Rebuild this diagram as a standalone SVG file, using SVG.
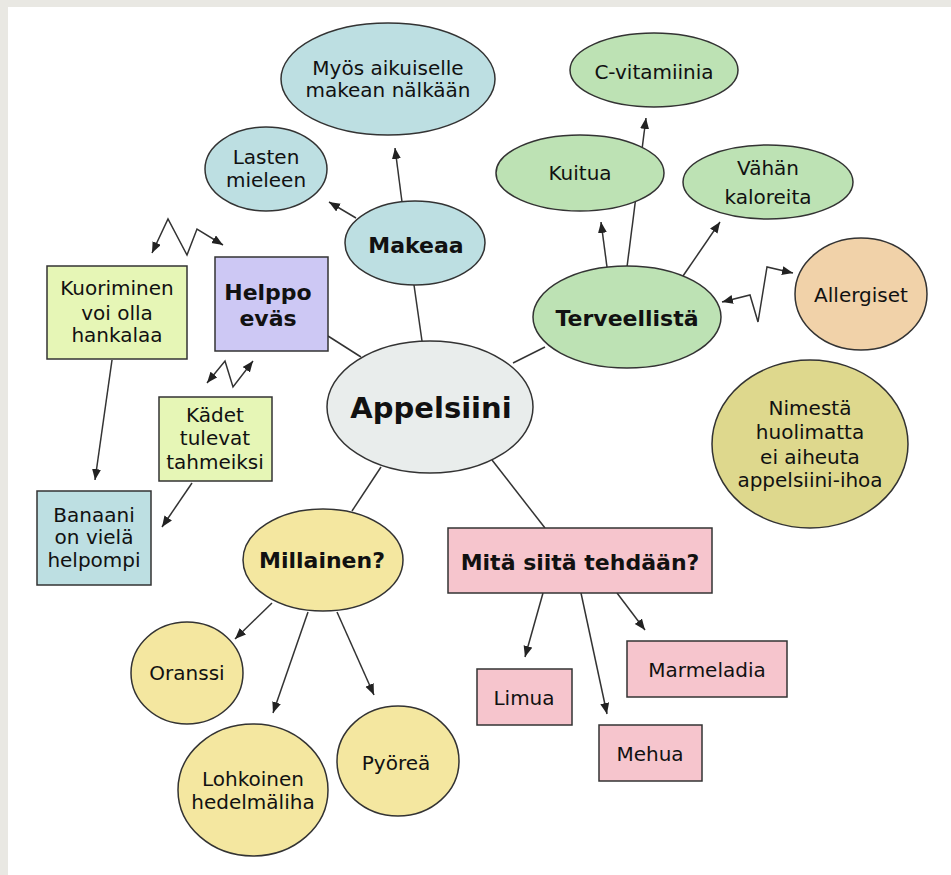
<svg xmlns="http://www.w3.org/2000/svg" width="951" height="875" viewBox="0 0 951 875">
<defs>
<marker id="ah" markerUnits="userSpaceOnUse" markerWidth="12" markerHeight="10" refX="11" refY="4.5" orient="auto-start-reverse"><path d="M0,0 L11,4.5 L0,9 z" fill="#222"/></marker>
<style>
.n{stroke:#333;stroke-width:1.5}
.t{font-family:"DejaVu Sans",Verdana,sans-serif;font-size:20px;fill:#111;text-anchor:middle}
.b{font-weight:bold;font-size:22px}
.c line,.c polyline{stroke:#333;stroke-width:1.5;fill:none}
.a{marker-end:url(#ah)}
.d{marker-start:url(#ah);marker-end:url(#ah)}
.blue{fill:#bddfe2}.green{fill:#bde2b4}.lime{fill:#e6f6b6}.purple{fill:#cdc8f4}.gray{fill:#e9edec}.yellow{fill:#f4e7a0}.pink{fill:#f6c5cd}.peach{fill:#f1d2a9}.khaki{fill:#ded88d}
</style>
</defs>
<rect width="951" height="875" fill="#e9e8e3"/>
<rect x="8" y="7" width="943" height="868" fill="#fff"/>
<g class="c" id="connectors">
<line x1="414" y1="285" x2="422" y2="341"/>
<line x1="328" y1="336" x2="361" y2="357"/>
<line x1="513" y1="363" x2="545" y2="347"/>
<line x1="381" y1="467" x2="352" y2="511"/>
<line x1="492" y1="460" x2="545" y2="528"/>
<line class="a" x1="402" y1="202" x2="395" y2="148"/>
<line class="a" x1="356" y1="218" x2="329" y2="202"/>
<line class="a" x1="627" y1="267" x2="646" y2="118"/>
<line class="a" x1="607" y1="267" x2="601" y2="222"/>
<line class="a" x1="683" y1="276" x2="720" y2="222"/>
<polyline class="d" points="722,302 750,295 758,322 767,267 793,273"/>
<polyline class="d" points="152,253 168,219 187,255 197,229 223,245"/>
<polyline class="d" points="207,383 225,361 233,387 253,361"/>
<line class="a" x1="112" y1="360" x2="95" y2="480"/>
<line class="a" x1="192" y1="483" x2="162" y2="527"/>
<line class="a" x1="272" y1="603" x2="235" y2="639"/>
<line class="a" x1="308" y1="612" x2="273" y2="713"/>
<line class="a" x1="337" y1="612" x2="374" y2="695"/>
<line class="a" x1="543" y1="593" x2="525" y2="657"/>
<line class="a" x1="581" y1="593" x2="607" y2="714"/>
<line class="a" x1="617" y1="593" x2="645" y2="630"/>
</g>
<g id="appelsiini"><ellipse class="n gray" cx="430" cy="407" rx="103" ry="66"/><text class="t b" x="431" y="418" style="font-size:29px">Appelsiini</text></g>
<g id="makeaa"><ellipse class="n blue" cx="415" cy="243" rx="70" ry="42"/><text class="t b" x="416" y="253">Makeaa</text></g>
<g id="myos"><ellipse class="n blue" cx="388" cy="79" rx="107" ry="56"/><text class="t" x="388" y="75">Myös aikuiselle</text><text class="t" x="388" y="97">makean nälkään</text></g>
<g id="lasten"><ellipse class="n blue" cx="266" cy="169" rx="61" ry="42"/><text class="t" x="266" y="164">Lasten</text><text class="t" x="266" y="187">mieleen</text></g>
<g id="terveellista"><ellipse class="n green" cx="627" cy="317" rx="94" ry="51"/><text class="t b" x="627" y="326">Terveellistä</text></g>
<g id="cvitamiinia"><ellipse class="n green" cx="654" cy="70" rx="84" ry="37"/><text class="t" x="654" y="79">C-vitamiinia</text></g>
<g id="kuitua"><ellipse class="n green" cx="580" cy="173" rx="84" ry="38"/><text class="t" x="580" y="180">Kuitua</text></g>
<g id="vahan"><ellipse class="n green" cx="768" cy="182" rx="85" ry="37"/><text class="t" x="768" y="175">Vähän</text><text class="t" x="768" y="204">kaloreita</text></g>
<g id="allergiset"><ellipse class="n peach" cx="861" cy="294" rx="66" ry="56"/><text class="t" x="861" y="302">Allergiset</text></g>
<g id="nimesta"><ellipse class="n khaki" cx="810" cy="444" rx="98" ry="84"/><text class="t" x="810" y="415">Nimestä</text><text class="t" x="810" y="439">huolimatta</text><text class="t" x="810" y="464">ei aiheuta</text><text class="t" x="810" y="487">appelsiini-ihoa</text></g>
<g id="helppo"><rect class="n purple" x="215" y="257" width="113" height="94"/><text class="t b" x="268" y="300">Helppo</text><text class="t b" x="268" y="326">eväs</text></g>
<g id="kuoriminen"><rect class="n lime" x="47" y="266" width="140" height="93"/><text class="t" x="117" y="295">Kuoriminen</text><text class="t" x="117" y="320">voi olla</text><text class="t" x="117" y="342">hankalaa</text></g>
<g id="kadet"><rect class="n lime" x="159" y="397" width="113" height="84"/><text class="t" x="215" y="422">Kädet</text><text class="t" x="215" y="445">tulevat</text><text class="t" x="215" y="469">tahmeiksi</text></g>
<g id="banaani"><rect class="n blue" x="37" y="491" width="114" height="94"/><text class="t" x="94" y="522">Banaani</text><text class="t" x="94" y="544">on vielä</text><text class="t" x="94" y="567">helpompi</text></g>
<g id="millainen"><ellipse class="n yellow" cx="323" cy="560" rx="80" ry="51"/><text class="t b" x="322" y="568">Millainen?</text></g>
<g id="oranssi"><ellipse class="n yellow" cx="187" cy="673" rx="56" ry="51"/><text class="t" x="187" y="680">Oranssi</text></g>
<g id="lohkoinen"><ellipse class="n yellow" cx="253" cy="790" rx="75" ry="66"/><text class="t" x="253" y="786">Lohkoinen</text><text class="t" x="253" y="809">hedelmäliha</text></g>
<g id="pyorea"><ellipse class="n yellow" cx="398" cy="761" rx="61" ry="55"/><text class="t" x="396" y="770">Pyöreä</text></g>
<g id="mita"><rect class="n pink" x="448" y="528" width="264" height="65"/><text class="t b" x="580" y="570">Mitä siitä tehdään?</text></g>
<g id="limua"><rect class="n pink" x="477" y="669" width="95" height="56"/><text class="t" x="524" y="705">Limua</text></g>
<g id="mehua"><rect class="n pink" x="599" y="725" width="103" height="56"/><text class="t" x="650" y="761">Mehua</text></g>
<g id="marmeladia"><rect class="n pink" x="627" y="641" width="160" height="56"/><text class="t" x="707" y="677">Marmeladia</text></g>
</svg>
